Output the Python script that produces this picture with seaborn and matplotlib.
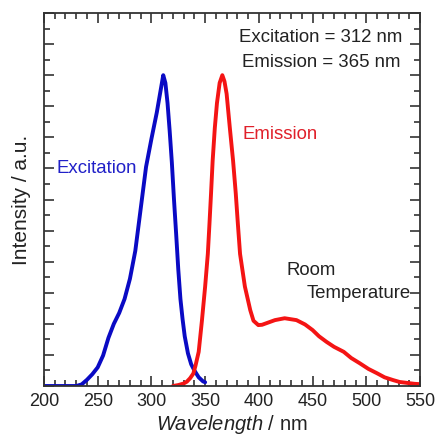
import numpy as np
import pandas as pd
import matplotlib
matplotlib.use("Agg")
import matplotlib.pyplot as plt
from matplotlib.ticker import MultipleLocator, NullFormatter
import seaborn as sns

# Excitation spectrum
exc_nm = [200, 210, 220, 230, 235, 240, 245, 250, 255, 260, 265, 270, 275,
          280, 285, 290, 295, 300, 305, 308, 311, 313, 315, 317, 319, 321,
          323, 325, 327, 329, 331, 334, 337, 340, 344, 348, 350]
exc_int = [0, 0, 0, 0, 0.05, 0.2, 0.38, 0.6, 0.98, 1.55, 2.0, 2.35, 2.8,
           3.45, 4.35, 5.7, 7.05, 7.95, 8.8, 9.4, 10.0, 9.75, 9.1, 8.2, 7.2,
           6.0, 4.9, 3.75, 2.8, 2.15, 1.6, 1.05, 0.7, 0.5, 0.28, 0.15, 0.12]

# Emission spectrum
emi_nm = [320, 325, 330, 333, 336, 339, 341, 344, 347, 350, 352.5, 354,
          355.5, 357, 359, 361, 363.5, 366, 368, 370, 373, 376, 378.5, 380.5,
          382.5, 387, 392, 395, 399.5, 403, 407, 415, 424, 435, 443, 450, 456,
          463, 470, 479, 486, 494, 502, 510, 517, 525, 531, 538, 545, 550]
emi_int = [0, 0.03, 0.08, 0.14, 0.25, 0.4, 0.65, 1.1, 2.1, 3.2, 4.25, 5.2,
           6.2, 7.25, 8.3, 9.1, 9.75, 10.0, 9.8, 9.4, 8.3, 7.25, 6.2, 5.2,
           4.25, 3.2, 2.44, 2.1, 1.96, 1.97, 2.02, 2.12, 2.18, 2.12, 1.98, 1.8,
           1.6, 1.42, 1.26, 1.1, 0.9, 0.73, 0.55, 0.41, 0.28, 0.19, 0.13, 0.1,
           0.07, 0.06]

exc_df = pd.DataFrame({"nm": exc_nm, "I": exc_int})
emi_df = pd.DataFrame({"nm": emi_nm, "I": emi_int})

sns.set_theme(style="ticks")
plt.rcParams["font.family"] = ["Liberation Sans", "DejaVu Sans"]
plt.rcParams["mathtext.fontset"] = "custom"
plt.rcParams["mathtext.rm"] = "Liberation Sans"
plt.rcParams["mathtext.it"] = "Liberation Sans:italic"

fig = plt.figure(figsize=(4.36, 4.41), dpi=100)
ax = fig.add_axes([0.1009, 0.1247, 0.8624, 0.8458])

blue = "#0a0ac4"
red = "#f41414"
sns.lineplot(data=exc_df, x="nm", y="I", ax=ax, color=blue, linewidth=2.8)
sns.lineplot(data=emi_df, x="nm", y="I", ax=ax, color=red, linewidth=2.8)

ax.set_xlim(200, 550)
ax.set_ylim(0, 12)
ax.xaxis.set_major_locator(MultipleLocator(50))
ax.xaxis.set_minor_locator(MultipleLocator(10))
ax.yaxis.set_major_locator(MultipleLocator(1))
ax.yaxis.set_minor_locator(MultipleLocator(0.5))
ax.yaxis.set_major_formatter(NullFormatter())
ax.tick_params(which="both", direction="in", top=True, right=True,
               color="#222222", width=1.1)
ax.tick_params(which="major", length=7.5, labelsize=13, labelcolor="#222222")
ax.tick_params(which="minor", length=4)
ax.tick_params(axis="x", pad=5)
for s in ax.spines.values():
    s.set_color("#333333")
    s.set_linewidth(1.3)

ax.set_xlabel(r"$\mathit{Wavelength}$ / nm", fontsize=14.5, color="#222222",
              labelpad=2)
ax.set_ylabel("Intensity / a.u.", fontsize=15, color="#222222", labelpad=6)

fs = 13.4
ax.text(458, 11.2, "Excitation = 312 nm", ha="center", va="center",
        fontsize=fs, color="#222222")
ax.text(458, 10.42, "Emission = 365 nm", ha="center", va="center",
        fontsize=fs, color="#222222")
ax.text(385.2, 8.08, "Emission", ha="left", va="center", fontsize=fs,
        color="#e0202a")
ax.text(212, 7.0, "Excitation", ha="left", va="center", fontsize=fs,
        color="#2020c8")
ax.text(426.2, 3.71, "Room", ha="left", va="center", fontsize=fs,
        color="#222222")
ax.text(444.8, 3.03, "Temperature", ha="left", va="center_baseline",
        fontsize=fs, color="#222222")

fig.savefig("out.png", dpi=100)
